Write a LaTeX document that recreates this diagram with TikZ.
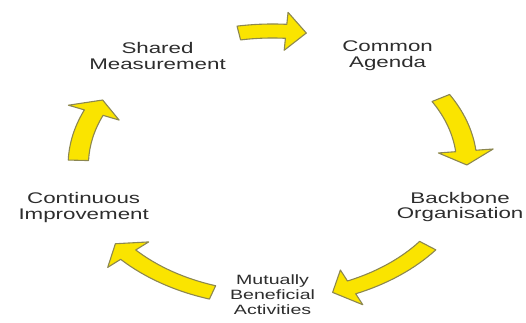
\documentclass[tikz,border=0pt]{standalone}
\usepackage{fontspec}
\setmainfont{Liberation Sans}
\usepackage{xcolor}
\usepackage{tikz}

\definecolor{arrowFill}{RGB}{250,228,0}
\definecolor{arrowLine}{RGB}{140,135,80}
\definecolor{labelText}{RGB}{45,45,45}

% curved block arrow on the cycle: #1 tail angle, #2 tip angle
\newcommand{\cyclearrow}[2]{%
    \pgfmathsetmacro{\headangle}{#2+6}
    \draw[blockarrow] (#1:141) arc[start angle=#1, end angle=\headangle, radius=141]
        -- (\headangle:153) -- (#2:134) -- (\headangle:115) -- (\headangle:127)
        arc[start angle=\headangle, end angle=#1, radius=127] -- cycle;
}

\begin{document}
\begin{tikzpicture}[x=1pt, y=1pt, xscale=1.45, every node/.style={transform shape},
    stagelabel/.style={align=center, text=labelText, inner sep=0pt, font=\fontsize{15.4}{15.7}\selectfont},
    blockarrow/.style={fill=arrowFill, draw=arrowLine, line width=1.1pt, line join=round}]

        \useasboundingbox (-188,-158) rectangle (174.8,165);

        % Shared measurement
        \node[stagelabel] (shared) at (126:135) {Shared\\Measurement};

        % Common agenda
        \node[stagelabel] (common) at (54:135) {Common\\Agenda};

        % Backbone organisation
        \node[stagelabel] (backbone) at (-18:136) {Backbone\\Organisation};

        % Mutually beneficial activities
        \node[stagelabel, font=\fontsize{13.5}{15}\selectfont] (mutually) at (-90:130) {Mutually\\Beneficial\\Activities};

        % Continuous improvement
        \node[stagelabel] (continuous) at (-162:137) {Continuous\\Improvement};

        % Arrows between the stages
        \cyclearrow{100}{80}
        \cyclearrow{30}{0}
        \cyclearrow{-37}{-72}
        \cyclearrow{-108}{-144}
        \cyclearrow{178}{151}
    \end{tikzpicture}
\end{document}
